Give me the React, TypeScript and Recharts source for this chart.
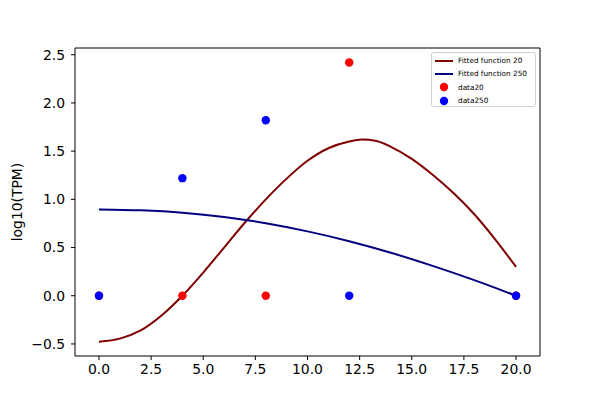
import React from "react";
import {
  ComposedChart,
  Line,
  Scatter,
  XAxis,
  YAxis,
  ZAxis,
  ReferenceLine,
} from "recharts";

// fitted curves
const fit20X = [0, 1, 2, 3, 4, 5, 6, 7, 8, 9, 10, 11, 12, 12.6, 13.3, 14, 15, 16, 17, 18, 19, 20];
const fit20Y = [
  -0.476, -0.445, -0.36, -0.205, 0.0, 0.24, 0.5, 0.76, 1.0, 1.215, 1.4, 1.53, 1.6, 1.62, 1.605,
  1.545, 1.42, 1.255, 1.065, 0.845, 0.585, 0.3,
];
const fit250X = [0, 2, 4, 6, 8, 10, 12, 14, 16, 18, 20];
const fit250Y = [0.896, 0.886, 0.862, 0.818, 0.752, 0.668, 0.566, 0.446, 0.31, 0.162, 0.0];

// measured points
const dataX = [0, 4, 8, 12, 20];
const data20Y = [0, 0, 0, 2.42, 0];
const data250Y = [0, 1.22, 1.82, 0, 0];

const xTicks = [0, 2.5, 5, 7.5, 10, 12.5, 15, 17.5, 20];
const yTicks = [-0.5, 0, 0.5, 1, 1.5, 2, 2.5];
const xDomain = [-1.15, 21.15];
const yDomain = [-0.625, 2.57];

const zip = (xs: number[], ys: number[]) => xs.map((x, i) => ({ x, y: ys[i] }));

const fit20 = zip(fit20X, fit20Y);
const fit250 = zip(fit250X, fit250Y);
const data20 = zip(dataX, data20Y);
const data250 = zip(dataX, data250Y);

const FONT = "DejaVu Sans, sans-serif";

function fmt(v: number): string {
  const s = Math.abs(v).toFixed(1);
  return v < 0 ? `\u2212${s}` : s;
}

const legendItems = [
  { label: "Fitted function 20", color: "#800000", kind: "line" },
  { label: "Fitted function 250", color: "#000080", kind: "line" },
  { label: "data20", color: "#ff0000", kind: "dot" },
  { label: "data250", color: "#0000ff", kind: "dot" },
];

function BoxLegend() {
  return (
    <div
      style={{
        position: "absolute",
        left: 431,
        top: 52,
        width: 105,
        height: 55,
        boxSizing: "border-box",
        border: "1px solid #d0d0d0",
        borderRadius: 3,
        background: "rgba(255,255,255,0.8)",
        padding: "1px 0 0 2px",
        fontFamily: FONT,
        fontSize: 7.3,
        color: "#000",
      }}
    >
      {legendItems.map((it) => (
        <div
          key={it.label}
          style={{ display: "flex", alignItems: "center", height: 13.3, whiteSpace: "nowrap" }}
        >
          <svg width={24} height={10} style={{ flex: "none" }}>
            {it.kind === "line" ? (
              <line x1={1} y1={5} x2={19} y2={5} stroke={it.color} strokeWidth={2} />
            ) : (
              <circle cx={10} cy={5} r={4.2} fill={it.color} />
            )}
          </svg>
          <span>{it.label}</span>
        </div>
      ))}
    </div>
  );
}

export default function App() {
  return (
    <div style={{ position: "absolute", left: 0, top: 0, width: 600, height: 400, background: "#fff" }}>
      <ComposedChart width={600} height={400} margin={{ top: 48, right: 60, bottom: 0, left: 0 }}>
        <XAxis
          dataKey="x"
          type="number"
          domain={xDomain}
          ticks={xTicks}
          tickFormatter={fmt}
          allowDataOverflow
          height={44}
          tickSize={4}
          tickMargin={4}
          stroke="#000"
          tick={{ fontSize: 13.9, fill: "#000", fontFamily: FONT }}
        />
        <YAxis
          dataKey="y"
          type="number"
          domain={yDomain}
          ticks={yTicks}
          tickFormatter={fmt}
          allowDataOverflow
          width={75}
          tickSize={4}
          tickMargin={6}
          stroke="#000"
          tick={{ fontSize: 13.9, fill: "#000", fontFamily: FONT }}
          label={{
            value: "log10(TPM)",
            angle: -90,
            position: "insideLeft",
            offset: 17,
            style: { fontSize: 13.9, fill: "#000", fontFamily: FONT, textAnchor: "middle" },
          }}
        />
        <ZAxis range={[56, 56]} />
        <ReferenceLine y={yDomain[1]} stroke="#000" />
        <ReferenceLine x={xDomain[1]} stroke="#000" />
        <Scatter name="data20" data={data20} fill="#ff0000" isAnimationActive={false} />
        <Scatter name="data250" data={data250} fill="#0000ff" isAnimationActive={false} />
        <Line
          name="Fitted function 20"
          data={fit20}
          dataKey="y"
          type="monotone"
          stroke="#800000"
          strokeWidth={2}
          dot={false}
          activeDot={false}
          isAnimationActive={false}
        />
        <Line
          name="Fitted function 250"
          data={fit250}
          dataKey="y"
          type="monotone"
          stroke="#000080"
          strokeWidth={2}
          dot={false}
          activeDot={false}
          isAnimationActive={false}
        />
      </ComposedChart>
      <BoxLegend />
    </div>
  );
}
